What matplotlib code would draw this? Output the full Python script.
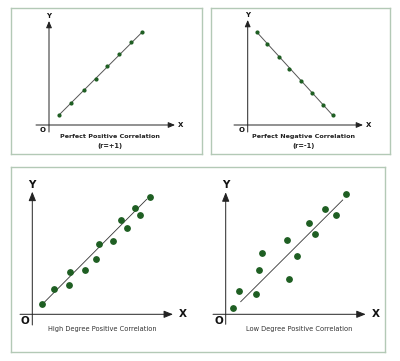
import matplotlib
matplotlib.use("Agg")
import matplotlib.pyplot as plt

# panel data: offsets from the axis origin (roughly pixel units)
pos_x = [10, 21.7, 35, 46.7, 58.3, 70.3, 82.3, 93.3]
pos_y = [10, 22, 35.3, 46.3, 59, 71, 82.7, 93]

neg_x = [9, 19.6, 31.3, 41.6, 53, 64, 75, 85]
neg_y = [93, 81.3, 68, 56.3, 44.3, 32.3, 20.3, 9.7]

high_x = [10, 21.4, 36.7, 38, 52.4, 64, 66.4, 81, 89, 94.7, 102.7, 108, 117.7]
high_y = [10, 25, 29, 42, 44.6, 55.6, 70, 73, 94.3, 86, 106, 99, 117]
high_line_x = [10, 114.4]
high_line_y = [10, 115]

low_x = [7, 13, 30.6, 33.3, 36.3, 61, 63.6, 71, 83.3, 89.3, 99, 110.6, 120]
low_y = [6, 23.3, 20.3, 44.6, 61, 74.3, 35, 58.6, 91.3, 80.3, 105, 99, 120]
low_line_x = [15, 117]
low_line_y = [12.6, 114.3]

BOX = "#b3c9b6"
DOT = "#1e5e22"
W, H = 400, 361

fig = plt.figure(figsize=(4, 3.61), dpi=100)
fig.patch.set_facecolor("white")


def panel(box, origin, xax, yax, big):
    l, t, r, b = box
    ox, oy = origin
    ax = fig.add_axes([l / W, 1 - b / H, (r - l) / W, (b - t) / H])
    ax.set_xlim(l - ox, r - ox)
    ax.set_ylim(oy - b, oy - t)
    ax.set_xticks([])
    ax.set_yticks([])
    for s in ax.spines.values():
        s.set_color(BOX)
        s.set_linewidth(1.0)
    hl, hw = (0.55, 0.22) if big else (0.4, 0.17)
    arrow = dict(arrowstyle="-|>,head_length=%.2f,head_width=%.2f" % (hl, hw),
                 color="#222222", lw=0.7, shrinkA=0, shrinkB=0)
    ax.annotate("", xy=(xax[1], 0), xytext=(xax[0], 0), arrowprops=arrow)
    ax.annotate("", xy=(0, yax[1]), xytext=(0, yax[0]), arrowprops=arrow)
    fs = 7.5 if big else 5
    wt = "bold" if big else "semibold"
    ax.text(xax[1] + (6 if big else 3), 0, "X", fontsize=fs, fontweight=wt,
            ha="left", va="center", color="#111111")
    ax.text(0, yax[1] + 2, "Y", fontsize=fs, fontweight=wt,
            ha="center", va="bottom", color="#111111")
    ax.text(-7 if big else -6, -2, "O", fontsize=fs, fontweight="bold",
            ha="center", va="top", color="#111111")
    return ax


# top left
ax1 = panel((11, 8, 202, 154), (49, 125), (-13, 126), (-7, 104), False)
ax1.plot([pos_x[0], pos_x[-1]], [pos_y[0], pos_y[-1]], color="#555555", lw=0.7)
ax1.scatter(pos_x, pos_y, s=4, color=DOT, zorder=3)
ax1.text(61, -12, "Perfect Positive Correlation", fontsize=4.6, fontweight="bold",
         ha="center", va="center", color="#222222")
ax1.text(61, -21, "(r=+1)", fontsize=4.8, fontweight="semibold",
         ha="center", va="center", color="#222222")

# top right
ax2 = panel((211, 8, 390, 154), (247.7, 125), (-13.7, 115.3), (-7, 105), False)
ax2.plot([neg_x[0], neg_x[-1]], [neg_y[0], neg_y[-1]], color="#555555", lw=0.7)
ax2.scatter(neg_x, neg_y, s=4, color=DOT, zorder=3)
ax2.text(55.5, -12, "Perfect Negative Correlation", fontsize=4.6, fontweight="bold",
         ha="center", va="center", color="#222222")
ax2.text(55.5, -21, "(r=-1)", fontsize=4.8, fontweight="semibold",
         ha="center", va="center", color="#222222")

# bottom: one big box holding both scatter plots
l, t, r, b = 11, 167, 385, 352
big = fig.add_axes([l / W, 1 - b / H, (r - l) / W, (b - t) / H])
big.set_xticks([])
big.set_yticks([])
big.patch.set_alpha(0)
for s in big.spines.values():
    s.set_color(BOX)
    s.set_linewidth(1.0)

ax3 = panel((12, 168, 200, 351), (32.3, 314.3), (-12.3, 140.7), (-10.7, 122.6), True)
ax3.patch.set_alpha(0)
for s in ax3.spines.values():
    s.set_visible(False)
ax3.plot(high_line_x, high_line_y, color="#333333", lw=0.6)
ax3.scatter(high_x, high_y, s=15, color=DOT, zorder=3)
ax3.text(70, -15, "High Degree Positive Correlation", fontsize=4.8,
         ha="center", va="center", color="#333333")

ax4 = panel((201, 168, 384, 351), (225.7, 314.3), (-12.7, 140), (-10, 122), True)
ax4.patch.set_alpha(0)
for s in ax4.spines.values():
    s.set_visible(False)
ax4.plot(low_line_x, low_line_y, color="#333333", lw=0.6)
ax4.scatter(low_x, low_y, s=15, color=DOT, zorder=3)
ax4.text(73, -15, "Low Degree Positive Correlation", fontsize=4.8,
         ha="center", va="center", color="#333333")

fig.savefig("out.png", dpi=100, facecolor="white")
